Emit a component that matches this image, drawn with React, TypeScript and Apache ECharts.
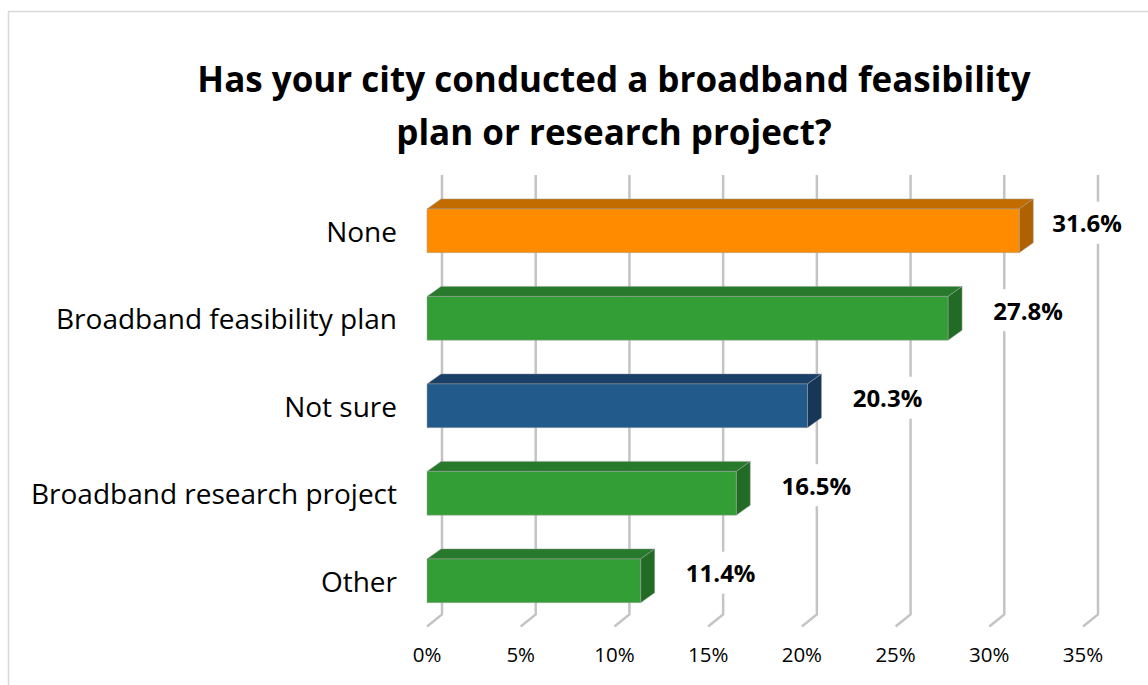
import React, { useEffect, useRef } from "react";
import * as echarts from "echarts";

const categories = ["None", "Broadband feasibility plan", "Not sure", "Broadband research project", "Other"];
const values = [31.6, 27.8, 20.3, 16.5, 11.4];
const barColorKeys = ["orange", "green", "blue", "green", "green"];
const tickValues = [0, 5, 10, 15, 20, 25, 30, 35];
const titleLines = ["Has your city conducted a broadband feasibility", "plan or research project?"];

const FONT = "'Open Sans', Lato, sans-serif";

const palette: Record<string, { front: string; top: string; side: string }> = {
  orange: { front: "#FF8C00", top: "#C26C00", side: "#B06100" },
  green: { front: "#339E36", top: "#277A2B", side: "#216B24" },
  blue: { front: "#225A8C", top: "#1B4068", side: "#173759" },
};

const DX = 14;
const DY = 10;

export default function App() {
  const ref = useRef<HTMLDivElement>(null);
  useEffect(() => {
    document.body.style.margin = "0";
    const chart = echarts.init(ref.current!, null, { renderer: "svg" });
    const option: any = {
      animation: false,
      backgroundColor: "#ffffff",
      grid: { left: 427, top: 187, width: 656, height: 437.5 },
      xAxis: {
        type: "value",
        min: 0,
        max: 35,
        interval: 5,
        axisLine: { show: false },
        axisTick: { show: false },
        splitLine: { show: false },
        axisLabel: {
          formatter: (v: number) => v + "%",
          fontSize: 20.5,
          color: "#000",
          fontFamily: FONT,
          margin: 19,
        },
      },
      yAxis: {
        type: "category",
        data: categories,
        inverse: true,
        axisLine: { show: false },
        axisTick: { show: false },
        axisLabel: { fontSize: 28, color: "#000", fontFamily: FONT, margin: 30 },
      },
      graphic: [
        {
          type: "rect",
          shape: { x: 8.5, y: 11.5, width: 1200, height: 800 },
          style: { fill: "none", stroke: "#D9D9D9", lineWidth: 1.5 },
          silent: true,
        },
        ...titleLines.map((t, i) => ({
          type: "text",
          x: 614,
          y: 78 + i * 53,
          style: {
            text: t,
            textAlign: "center",
            textVerticalAlign: "middle",
            fontSize: 35,
            fontWeight: "bold",
            fontFamily: FONT,
            fill: "#000",
          },
        })),
      ],
      series: [
        {
          type: "custom",
          z: 1,
          silent: true,
          data: tickValues.map((v) => [v, 0]),
          renderItem: (params: any, api: any) => {
            const cs = params.coordSys;
            const x = api.coord([api.value(0), 0])[0];
            const top = cs.y;
            const bottom = cs.y + cs.height;
            return {
              type: "polyline",
              shape: {
                points: [
                  [x + 15, top - 12],
                  [x + 15, bottom - 10],
                  [x, bottom + 2],
                ],
              },
              style: { stroke: "#C4C4C4", lineWidth: 2.5, fill: "none" },
            };
          },
        },
        {
          type: "custom",
          z: 2,
          data: values.map((v, i) => [v, i]),
          renderItem: (params: any, api: any) => {
            const cs = params.coordSys;
            const idx = api.value(1);
            const end = api.coord([api.value(0), idx]);
            const start = api.coord([0, idx]);
            const band = api.size([0, 1])[1];
            const h = band * 0.5;
            const x0 = start[0];
            const x1 = end[0];
            const yc = end[1];
            const yt = yc - h / 2;
            const yb = yc + h / 2;
            const c = palette[barColorKeys[params.dataIndex]];
            const edge = { stroke: "rgba(160,160,160,0.6)", lineWidth: 0.8 };
            const labelCx = Math.min(x1 + 80, cs.x + cs.width + 4);
            return {
              type: "group",
              children: [
                {
                  type: "polygon",
                  shape: { points: [[x0, yt], [x0 + DX, yt - DY], [x1 + DX, yt - DY], [x1, yt]] },
                  style: { fill: c.top, ...edge },
                },
                {
                  type: "polygon",
                  shape: { points: [[x1, yt], [x1 + DX, yt - DY], [x1 + DX, yb - DY], [x1, yb]] },
                  style: { fill: c.side, ...edge },
                },
                {
                  type: "rect",
                  shape: { x: x0, y: yt, width: x1 - x0, height: h },
                  style: { fill: c.front, ...edge },
                },
                {
                  type: "text",
                  x: labelCx,
                  y: yc - 8,
                  style: {
                    text: api.value(0).toFixed(1) + "%",
                    textAlign: "center",
                    textVerticalAlign: "middle",
                    fontSize: 24,
                    fontWeight: "bold",
                    fontFamily: FONT,
                    fill: "#000",
                    backgroundColor: "#fff",
                    padding: [9, 4],
                  },
                },
              ],
            };
          },
        },
      ],
    };
    chart.setOption(option);
    return () => chart.dispose();
  }, []);
  return <div ref={ref} style={{ width: 1148, height: 685 }} />;
}
